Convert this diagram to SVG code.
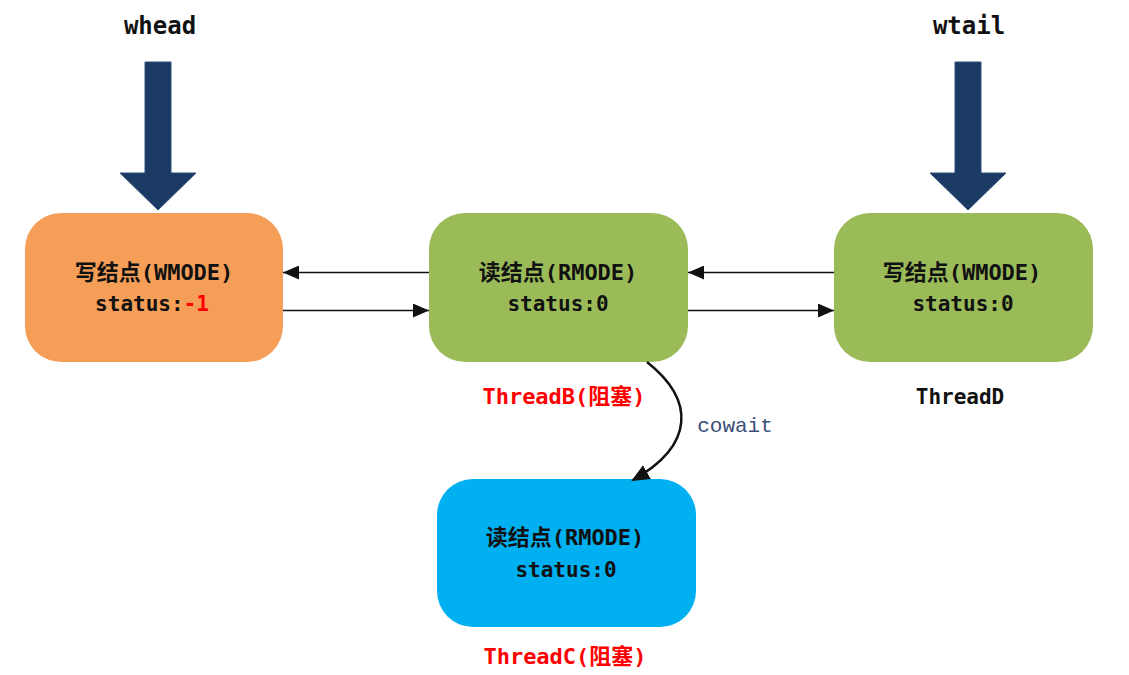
<svg xmlns="http://www.w3.org/2000/svg" width="1129" height="675" viewBox="0 0 1129 675">
<style>
.t{font-family:"DejaVu Sans Mono","Noto Sans CJK SC",monospace;font-weight:bold;fill:#111;text-anchor:middle}
.h{font-size:22px}
.s{font-size:21px}
.red{fill:#FF0000}
.big{font-family:"DejaVu Sans Mono",monospace;font-weight:bold;font-size:24px;fill:#111;text-anchor:middle}
.line{stroke:#111;stroke-width:1.5;fill:none}
.ptr{fill:#1B3A63;stroke:#2F4F7A;stroke-width:1}
</style>
<defs>
<marker id="ah" viewBox="0 0 16 14" refX="16" refY="7" markerWidth="16" markerHeight="14" markerUnits="userSpaceOnUse" orient="auto">
<path d="M0,0 L16,7 L0,14 Z" fill="#111"/>
</marker>
<marker id="ah2" viewBox="0 0 18 16" refX="16" refY="8" markerWidth="18" markerHeight="16" markerUnits="userSpaceOnUse" orient="auto">
<path d="M0,0 L18,8 L0,16 Z" fill="#111"/>
</marker>
</defs>
<rect width="1129" height="675" fill="#fff"/>

<g id="whead">
<text class="big" x="160" y="34">whead</text>
<path class="ptr" d="M145,62 H171 V173 H196 L158,210 L120,173 H145 Z"/>
</g>
<g id="wtail">
<text class="big" x="969" y="34">wtail</text>
<path class="ptr" d="M955,62 H981 V173 H1006 L968,210 L930,173 H955 Z"/>
</g>

<g id="node1">
<rect x="25" y="213" width="258" height="149" rx="36" fill="#F59E58"/>
<text class="t h" x="154" y="280">写结点(WMODE)</text>
<text class="t s" x="152" y="311">status:<tspan class="red">-1</tspan></text>
</g>
<g id="node2">
<rect x="429" y="213" width="259" height="149" rx="36" fill="#9BBB59"/>
<text class="t h" x="558" y="280">读结点(RMODE)</text>
<text class="t s" x="558" y="311">status:0</text>
</g>
<g id="node3">
<rect x="834" y="213" width="259" height="149" rx="36" fill="#9BBB59"/>
<text class="t h" x="962" y="280">写结点(WMODE)</text>
<text class="t s" x="963" y="311">status:0</text>
</g>
<g id="node4">
<rect x="437" y="479" width="259" height="148" rx="36" fill="#00B0F0"/>
<text class="t h" x="565" y="545">读结点(RMODE)</text>
<text class="t s" x="566" y="577">status:0</text>
</g>

<g id="labels">
<text class="t h red" x="564" y="404">ThreadB(阻塞)</text>
<text class="t s" x="960" y="404">ThreadD</text>
<text class="t h red" x="565" y="664">ThreadC(阻塞)</text>
<text x="735" y="432" font-family="Liberation Mono, monospace" font-size="21" fill="#3B4F7A" text-anchor="middle">cowait</text>
</g>

<g id="connectors">
<line class="line" x1="429" y1="272.5" x2="283" y2="272.5" marker-end="url(#ah)"/>
<line class="line" x1="283" y1="310.5" x2="429" y2="310.5" marker-end="url(#ah)"/>
<line class="line" x1="834" y1="272.5" x2="688" y2="272.5" marker-end="url(#ah)"/>
<line class="line" x1="688" y1="310.5" x2="834" y2="310.5" marker-end="url(#ah)"/>
<path d="M647,362 C695,400 695,445 633,480" fill="none" stroke="#111" stroke-width="2.5" marker-end="url(#ah2)"/>
</g>
</svg>
